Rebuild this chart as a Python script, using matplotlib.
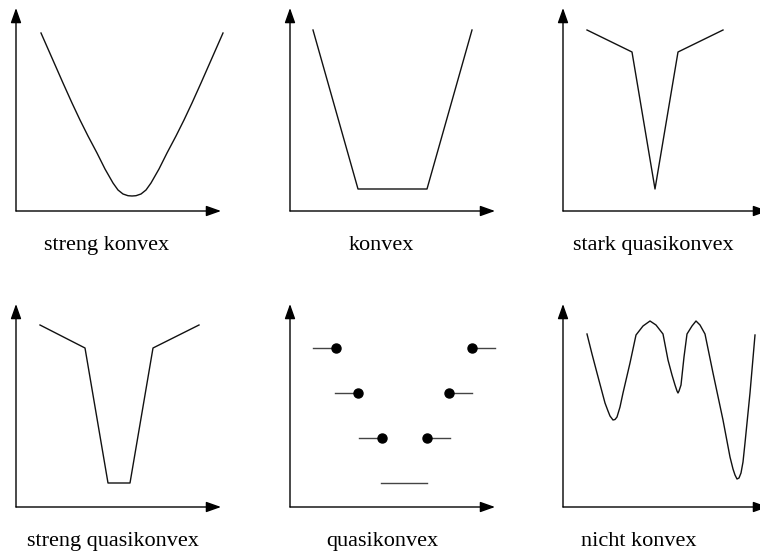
import numpy as np
import matplotlib
matplotlib.use('Agg')
import matplotlib.pyplot as plt

# panel units: x 0..205, y 0..203 (origin = axis crossing)
labels = ['streng konvex', 'konvex', 'stark quasikonvex',
          'streng quasikonvex', 'quasikonvex', 'nicht konvex']

# streng konvex
p1_x = [25, 36, 47, 56, 64, 72, 81, 89, 97, 102, 107, 112, 116,
        120, 125, 130, 135, 143, 151, 160, 168, 176, 185, 196, 207]
p1_y = [178, 153, 128, 108, 91, 75, 58, 42, 28, 21, 17, 15.3, 15,
        15.3, 17, 21, 28, 42, 58, 75, 91, 108, 128, 153, 178]

# konvex
p2_x = [23, 68, 137, 182]
p2_y = [181, 22, 22, 181]

# stark quasikonvex
p3_x = [24, 69, 92, 115, 160]
p3_y = [181, 159, 22, 159, 181]

# streng quasikonvex
p4_x = [24, 69, 92, 114, 137, 183]
p4_y = [182, 159, 24, 24, 159, 182]

# quasikonvex: steps with closed end dots
p5_left_dot_x = [46, 68, 92]
p5_right_dot_x = [137, 159, 182]
p5_left_y = [159, 114, 69]
p5_right_y = [69, 114, 159]
p5_step_len = 23
p5_bottom_x = [91, 137]
p5_bottom_y = [24, 24]

# nicht konvex
p6_x = [24, 29, 34, 38, 42, 45, 47, 50, 52, 54, 57, 60, 67, 73, 80, 87, 93, 100,
        105, 109, 112, 114, 115, 116, 118, 121, 124, 129, 133, 137, 142, 150, 160,
        167, 170, 172, 174, 176, 178, 180, 182, 187, 192]
p6_y = [173, 153, 134, 119, 104, 96, 91, 87, 87.5, 90, 100, 114, 144, 172, 181, 186, 182, 173,
        147, 132, 122, 116, 114, 116, 122, 150, 173, 181, 186, 182, 173, 134, 87,
        50, 38, 32, 28, 29, 34, 45, 64, 114, 172]

W, H = 760, 554
origins = [(16, 211), (290, 211), (563, 211), (16, 507), (290, 507), (563, 507)]
label_x = [91, 91, 90, 97, 92, 76]
AW, AH = 205, 203

plt.rcParams['font.family'] = ['Liberation Serif', 'DejaVu Serif']
fig = plt.figure(figsize=(W / 100, H / 100), dpi=100)
fig.patch.set_facecolor('white')

axes = []
for (ox, oy) in origins:
    ax = fig.add_axes([ox / W, 1 - oy / H, AW / W, AH / H])
    ax.set_xlim(0, AW)
    ax.set_ylim(0, AH)
    ax.axis('off')
    arrow = dict(arrowstyle='-|>,head_length=0.45,head_width=0.16', color='black',
                 lw=1.0, shrinkA=0, shrinkB=0, mutation_scale=20)
    ax.annotate('', xy=(AW, 0), xytext=(0, 0), arrowprops=arrow, annotation_clip=False)
    ax.annotate('', xy=(0, AH), xytext=(0, 0), arrowprops=arrow, annotation_clip=False)
    axes.append(ax)

lc = '#111111'
axes[0].plot(p1_x, p1_y, color=lc, lw=1.0, clip_on=False)
axes[1].plot(p2_x, p2_y, color=lc, lw=1.0, clip_on=False)
axes[2].plot(p3_x, p3_y, color=lc, lw=1.0, clip_on=False)
axes[3].plot(p4_x, p4_y, color=lc, lw=1.0, clip_on=False)

ax = axes[4]
for x, y in zip(p5_left_dot_x, p5_left_y):
    ax.plot([x - p5_step_len, x], [y, y], color='#444444', lw=1.0, clip_on=False)
for x, y in zip(p5_right_dot_x, p5_right_y):
    ax.plot([x, x + p5_step_len], [y, y], color='#444444', lw=1.0, clip_on=False)
ax.plot(p5_left_dot_x + p5_right_dot_x, p5_left_y + p5_right_y, 'o', color='black',
        ms=6.5, clip_on=False)
ax.plot(p5_bottom_x, p5_bottom_y, color='#444444', lw=1.0, clip_on=False)

axes[5].plot(p6_x, p6_y, color=lc, lw=1.0, clip_on=False)

for ax, lab, lx in zip(axes, labels, label_x):
    ax.text(lx, -39, lab, ha='center', va='baseline', fontsize=16, color='black',
            clip_on=False)

plt.savefig('out.png', dpi=100, facecolor='white')
